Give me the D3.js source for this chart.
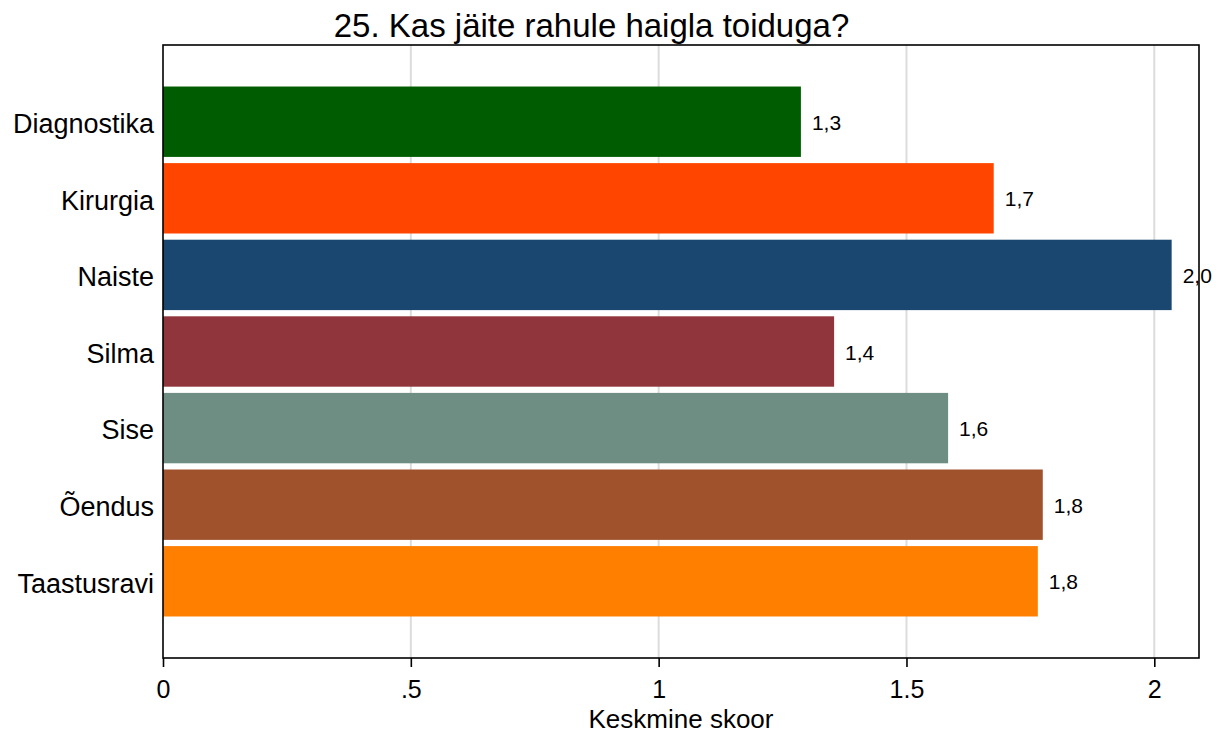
<!DOCTYPE html>
<html>
<head>
<meta charset="utf-8">
<script src="https://cdn.jsdelivr.net/npm/d3@7"></script>
<style>
  html, body { margin: 0; padding: 0; background: #fff; }
  svg { display: block; font-family: "Liberation Sans", Arial, sans-serif; }
</style>
</head>
<body>
<svg id="chart" width="1224" height="733"></svg>
<script>
// Department names, mean scores and bar colours
const categories = ["Diagnostika", "Kirurgia", "Naiste", "Silma", "Sise", "Õendus", "Taastusravi"];
const scores = [1.287, 1.676, 2.035, 1.354, 1.584, 1.775, 1.765];
const scoreLabels = ["1,3", "1,7", "2,0", "1,4", "1,6", "1,8", "1,8"];
const colors = ["#005c00", "#ff4500", "#1a476f", "#90353b", "#6e8e84", "#a0522d", "#ff7f00"];
const xTicks = [0, 0.5, 1, 1.5, 2];
const xTickLabels = ["0", ".5", "1", "1.5", "2"];

const svg = d3.select("#chart");
const plot = { left: 163, right: 1199, top: 45, bottom: 658 };
const FONT = "Liberation Sans, Arial, sans-serif";

const x = d3.scaleLinear().domain([0, 2]).range([plot.left, 1154.3]);
const y = d3.scaleBand().domain(categories)
  .range([plot.top, plot.bottom])
  .paddingInner(0.081).paddingOuter(0.542);

// vertical grid lines
svg.append("g").selectAll("line")
  .data(xTicks.filter(d => d > 0))
  .join("line")
  .attr("x1", d => x(d)).attr("x2", d => x(d))
  .attr("y1", plot.top).attr("y2", plot.bottom)
  .attr("stroke", "#dcdcdc").attr("stroke-width", 2);

// bars
svg.append("g").selectAll("rect")
  .data(categories)
  .join("rect")
  .attr("x", x(0))
  .attr("y", d => y(d))
  .attr("width", (d, i) => x(scores[i]) - x(0))
  .attr("height", y.bandwidth())
  .attr("fill", (d, i) => colors[i]);

// value labels
svg.append("g").selectAll("text")
  .data(categories)
  .join("text")
  .attr("x", (d, i) => x(scores[i]) + 11)
  .attr("y", d => y(d) + y.bandwidth() / 2 + 8)
  .attr("font-size", 21)
  .attr("fill", "#000")
  .text((d, i) => scoreLabels[i]);

// frame around the plot region
svg.append("rect")
  .attr("x", plot.left).attr("y", plot.top)
  .attr("width", plot.right - plot.left).attr("height", plot.bottom - plot.top)
  .attr("fill", "none").attr("stroke", "#000").attr("stroke-width", 1.6);

// x axis
const xAxis = d3.axisBottom(x)
  .tickValues(xTicks)
  .tickFormat((d, i) => xTickLabels[i])
  .tickSize(9).tickSizeOuter(0).tickPadding(13);
const gx = svg.append("g").attr("transform", `translate(0,${plot.bottom})`).call(xAxis);
gx.select(".domain").remove();
gx.selectAll(".tick line").attr("stroke", "#000").attr("stroke-width", 1.6);
gx.selectAll(".tick text").attr("font-size", 25).attr("fill", "#000")
  .attr("font-family", FONT);

// y axis (category names)
const yAxis = d3.axisLeft(y).tickSize(0).tickPadding(9);
const gy = svg.append("g").attr("transform", `translate(${plot.left},0)`).call(yAxis);
gy.select(".domain").remove();
gy.selectAll(".tick text").attr("font-size", 27).attr("fill", "#000")
  .attr("dy", "0.42em")
  .attr("font-family", FONT);

// axis title
svg.append("text")
  .attr("x", (plot.left + plot.right) / 2)
  .attr("y", 728)
  .attr("text-anchor", "middle")
  .attr("font-size", 26)
  .attr("fill", "#000")
  .text("Keskmine skoor");

// chart title
svg.append("text")
  .attr("x", 591.5)
  .attr("y", 37)
  .attr("text-anchor", "middle")
  .attr("font-size", 33)
  .attr("fill", "#000")
  .text("25. Kas jäite rahule haigla toiduga?");
</script>
</body>
</html>
